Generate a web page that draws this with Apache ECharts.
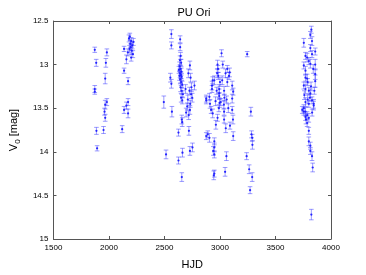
<!DOCTYPE html>
<html><head><meta charset="utf-8">
<script src="https://cdn.jsdelivr.net/npm/echarts@6/dist/echarts.min.js"></script>
<style>html,body{margin:0;padding:0;background:#fff}#c{width:366px;height:275px}</style>
</head><body><div id="c"></div>
<script>
const chartTitle = 'PU Ori';
const xTicks = [1500, 2000, 2500, 3000, 3500, 4000];
const yTicks = [12.5, 13, 13.5, 14, 14.5, 15];

const hjd = [
 1872,1885,1872,1872,1887,1893,1981,1972,1966,1981,1966,1960,1966,1951,
 2136,2157,2136,2172,2172,2157,2136,2172,2119,
 2180,2188,2192,2196,2200,2205,2210,2215,2220,2185,2200,2170,
 2494,2514,2553,2562,2562,2562,2567,2626,2626,2656,2662,2656,2660,
 2641,2641,2645,2640,2650,2636,2644,2652,2640,2648,2655,2642,2650,2660,2645,2655,2665,2650,2660,2635,2630,
 2729,2743,2770,2729,2720,2729,2752,
 2715,2735,2725,2740,2710,2732,2750,2718,2705,2690,2695,
 3014,2876,2905,2978,2982,2975,2985,2934,2928,3066,3081,3066,3087,2993,3007,3110,2920,2934,2978,2963,
 3037,3052,3110,3117,2890,2905,2949,2949,2949,3119,3058,2949,2944,3046,2876,2876,2949,2928,2993,2993,
 2996,2990,3037,3040,3035,3037,3110,3119,3020,3025,3050,2960,2970,3000,3060,3075,2910,3090,2940,
 3245,3278,3284,3290,3292,3240,3263,3290,3271,
 3823,3814,3829,3814,3755,3858,3770,3785,3800,3814,3858,3755,3770,3770,3785,3755,3770,3800,3814,3829,
 3844,3755,3770,3785,3800,3741,3770,3800,3844,3755,3770,3775,3785,3800,3800,3814,3814,3829,3835,3823,
 3858,3858,3829,3840,3790,3820,3830,3760,3810,3790,3850
];
const mag = [
 12.83,12.98,13.28,13.31,13.76,13.96,12.86,12.98,13.16,13.43,13.46,13.54,13.61,13.75,
 12.82,12.94,13.07,13.19,13.43,13.47,13.52,13.56,13.74,
 12.70,12.68,12.76,12.80,12.73,12.84,12.78,12.88,12.74,12.82,12.92,12.86,
 13.43,14.03,13.15,13.22,12.65,12.78,13.54,13.78,14.10,14.29,14.01,13.63,13.66,
 12.71,12.80,12.90,12.95,12.98,13.02,13.05,13.08,13.10,13.12,13.14,13.17,13.20,13.23,13.26,13.30,13.34,13.38,13.41,13.13,13.06,
 13.01,13.26,13.24,13.52,13.76,13.99,13.95,
 13.10,13.15,13.30,13.34,13.40,13.45,13.38,13.58,13.48,13.28,13.55,
 12.87,13.39,13.37,13.00,13.05,13.10,13.13,13.18,13.24,13.20,13.13,13.05,13.09,13.33,13.43,13.39,13.52,13.56,13.61,13.69,
 13.63,13.73,13.52,13.63,13.80,13.84,13.88,13.95,14.03,13.82,14.05,14.25,14.27,14.23,13.41,13.82,13.18,13.28,13.28,13.36,
 13.44,13.50,13.30,13.38,13.46,13.54,13.24,13.31,13.18,13.00,13.10,13.42,13.30,13.20,13.40,13.50,13.45,13.70,13.99,
 12.88,13.54,13.80,13.84,13.92,14.05,14.20,14.29,14.44,
 12.60,12.66,12.73,12.81,12.75,12.85,12.90,12.92,12.96,12.99,13.11,13.01,13.07,13.15,13.16,13.24,13.28,13.30,13.33,13.41,
 13.45,13.50,13.54,13.58,13.61,13.52,13.43,13.45,13.47,13.54,13.60,13.63,13.67,13.76,13.88,13.93,13.99,14.05,14.18,14.72,
 13.00,13.19,12.88,13.05,13.20,13.25,13.55,13.35,13.38,13.40,13.30
];
const err = [
 0.03,0.04,0.04,0.03,0.04,0.03,0.04,0.05,0.06,0.04,0.05,0.04,0.04,0.04,
 0.03,0.05,0.03,0.04,0.04,0.04,0.04,0.05,0.04,
 0.04,0.04,0.04,0.04,0.04,0.04,0.04,0.04,0.04,0.04,0.04,0.04,
 0.07,0.05,0.05,0.05,0.05,0.04,0.06,0.04,0.04,0.05,0.05,0.05,0.05,
 0.04,0.04,0.04,0.05,0.04,0.05,0.04,0.04,0.05,0.04,0.04,0.05,0.04,0.04,0.05,0.04,0.04,0.05,0.04,0.05,0.04,
 0.05,0.05,0.05,0.05,0.05,0.05,0.05,
 0.05,0.05,0.04,0.05,0.05,0.04,0.05,0.05,0.04,0.05,0.05,
 0.04,0.04,0.04,0.05,0.04,0.05,0.04,0.04,0.05,0.05,0.04,0.04,0.05,0.05,0.04,0.05,0.04,0.05,0.04,0.05,
 0.04,0.05,0.04,0.05,0.04,0.05,0.04,0.05,0.04,0.05,0.05,0.04,0.05,0.05,0.04,0.04,0.05,0.04,0.05,0.04,
 0.05,0.04,0.05,0.04,0.05,0.04,0.05,0.04,0.05,0.04,0.05,0.05,0.04,0.05,0.04,0.05,0.05,0.04,0.05,
 0.03,0.05,0.04,0.04,0.05,0.04,0.05,0.05,0.04,
 0.04,0.04,0.05,0.04,0.05,0.04,0.04,0.05,0.04,0.05,0.06,0.04,0.05,0.04,0.05,0.04,0.05,0.04,0.05,0.04,
 0.05,0.04,0.05,0.04,0.05,0.04,0.05,0.04,0.05,0.04,0.04,0.05,0.04,0.04,0.05,0.04,0.04,0.05,0.05,0.06,
 0.06,0.07,0.04,0.05,0.04,0.05,0.04,0.05,0.04,0.05,0.04
];

const errData = hjd.map((x, i) => [x, mag[i] - err[i], mag[i] + err[i]]);
const ptData = hjd.map((x, i) => [x, mag[i]]);

const axisColor = '#555';
const chart = echarts.init(document.getElementById('c'));
const commonX = {
  type: 'value', min: 1500, max: 4000, interval: 500,
  axisLine: {show: true, onZero: false, lineStyle: {color: axisColor, width: 1}},
  axisTick: {show: true, inside: true, length: 3, lineStyle: {color: axisColor}},
  splitLine: {show: false}
};
const commonY = {
  type: 'value', min: 12.5, max: 15, interval: 0.5, inverse: true,
  axisLine: {show: true, onZero: false, lineStyle: {color: axisColor, width: 1}},
  axisTick: {show: true, inside: true, length: 3, lineStyle: {color: axisColor}},
  splitLine: {show: false}
};
chart.setOption({
  animation: false,
  backgroundColor: '#fff',
  title: {
    text: chartTitle, left: 189, top: 2, textAlign: 'center',
    textStyle: {fontFamily: 'Liberation Sans', fontSize: 11, fontWeight: 'normal', color: '#000'}
  },
  grid: {left: 47, right: 35, top: 21, bottom: 32},
  xAxis: [
    Object.assign({}, commonX, {
      position: 'bottom',
      name: 'HJD', nameLocation: 'middle', nameGap: 20,
      nameTextStyle: {fontFamily: 'Liberation Sans', fontSize: 11, color: '#000'},
      axisLabel: {show: true, fontFamily: 'Liberation Sans', fontSize: 8, color: '#000', margin: 5,
        formatter: v => xTicks.includes(v) ? String(v) : ''}
    }),
    Object.assign({}, commonX, {position: 'top', axisLabel: {show: false}})
  ],
  yAxis: [
    Object.assign({}, commonY, {
      position: 'left',
      name: '{a|V}{b|0}{a| [mag]}', nameLocation: 'middle', nameGap: 29, nameRotate: 90,
      nameTextStyle: {
        rich: {
          a: {fontFamily: 'Liberation Sans', fontSize: 11, color: '#000'},
          b: {fontFamily: 'Liberation Sans', fontSize: 8, color: '#000', verticalAlign: 'bottom', padding: [0, 0, -3, 0]}
        }
      },
      axisLabel: {show: true, fontFamily: 'Liberation Sans', fontSize: 8, color: '#000', margin: 5,
        formatter: v => yTicks.includes(v) ? String(v) : ''}
    }),
    Object.assign({}, commonY, {position: 'right', axisLabel: {show: false}})
  ],
  series: [
    {
      type: 'custom', xAxisIndex: 0, yAxisIndex: 0,
      data: errData,
      encode: {x: 0, y: [1, 2]},
      renderItem: function (params, api) {
        const x = api.value(0);
        const p1 = api.coord([x, api.value(1)]);
        const p2 = api.coord([x, api.value(2)]);
        const w = 2.3;
        const st = {stroke: 'rgba(60,60,255,0.5)', lineWidth: 1};
        return {type: 'group', children: [
          {type: 'line', shape: {x1: p1[0], y1: p1[1], x2: p2[0], y2: p2[1]}, style: st},
          {type: 'line', shape: {x1: p1[0] - w, y1: p1[1], x2: p1[0] + w, y2: p1[1]}, style: st},
          {type: 'line', shape: {x1: p2[0] - w, y1: p2[1], x2: p2[0] + w, y2: p2[1]}, style: st}
        ]};
      },
      z: 2
    },
    {
      type: 'scatter', xAxisIndex: 0, yAxisIndex: 0,
      data: ptData, symbol: 'circle', symbolSize: 2.2,
      itemStyle: {color: '#1a1aff', opacity: 0.95},
      z: 3
    }
  ]
});
</script>
</body></html>
